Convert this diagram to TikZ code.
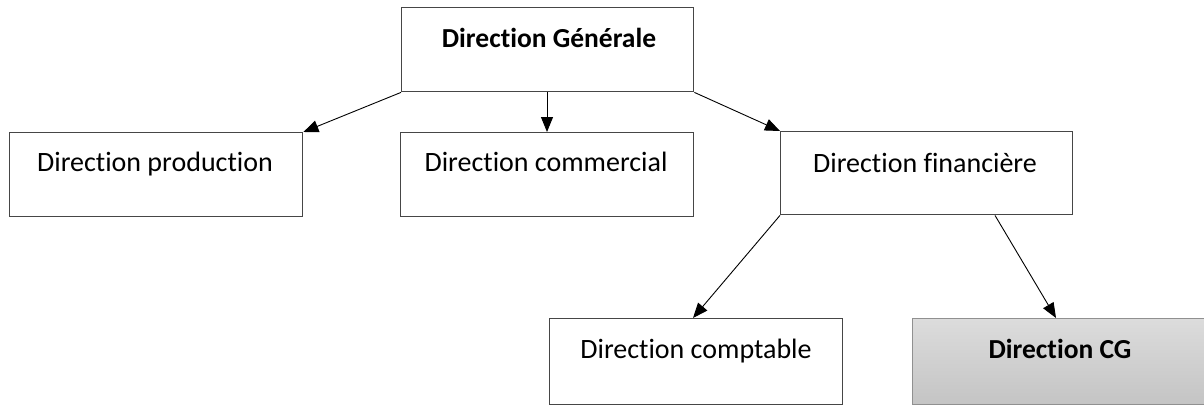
\documentclass[tikz,border=0pt]{standalone}
\usepackage{fontspec}
\setmainfont{Carlito}[Ligatures=NoCommon]
\usetikzlibrary{arrows.meta}
\definecolor{boxline}{RGB}{70,70,70}
\definecolor{cgtop}{RGB}{220,220,220}
\definecolor{cgbot}{RGB}{196,196,196}
\tikzset{
  x=1pt,y=-1pt,
  orgbox/.style={draw=boxline,line width=1.4pt,rectangle,inner sep=0pt},
  lbl/.style={font=\fontsize{28}{32}\selectfont,inner sep=0pt,anchor=base},
  lblb/.style={font=\fontsize{27.5}{32}\selectfont\bfseries,inner sep=0pt,anchor=base},
  arr/.style={draw=black,line width=0.9pt,-{Triangle[length=15pt,width=12pt]}}
}
\begin{document}
\begin{tikzpicture}
\useasboundingbox (0,0) rectangle (1204,405);
% boxes
\node[orgbox,minimum width=292pt,minimum height=84pt,anchor=north west] (dg) at (401,7) {};
\node[orgbox,minimum width=293pt,minimum height=84pt,anchor=north west] (prod) at (9,132) {};
\node[orgbox,minimum width=293pt,minimum height=84pt,anchor=north west] (com) at (400,132) {};
\node[orgbox,minimum width=292pt,minimum height=83pt,anchor=north west] (fin) at (780,131) {};
\node[orgbox,minimum width=293pt,minimum height=86pt,anchor=north west] (cpt) at (549,318) {};
\node[orgbox,top color=cgtop,bottom color=cgbot,draw=boxline!60,minimum width=300pt,minimum height=86pt,anchor=north west] (cg) at (912,318) {};
% labels
\node[lblb] (tdg) at (549,47) {Direction Générale};
\node[lbl] (tprod) at (155,171) {Direction production};
\node[lbl] (tcom) at (546,171) {Direction commercial};
\node[lbl] (tfin) at (925,172) {Direction financière};
\node[lbl] (tcpt) at (696,358) {Direction comptable};
\node[lblb] (tcg) at (1060,358) {Direction CG};
% connectors
\draw[arr] (dg.south west) -- (prod.north east);
\draw[arr] (dg.south -| 547,0) -- (com.north -| 547,0);
\draw[arr] (dg.south east) -- (fin.north west);
\draw[arr] (fin.south west) -- (cpt.north -| 693,0);
\draw[arr] (fin.south -| 995,0) -- (cg.north -| 1056,0);
\end{tikzpicture}
\end{document}
